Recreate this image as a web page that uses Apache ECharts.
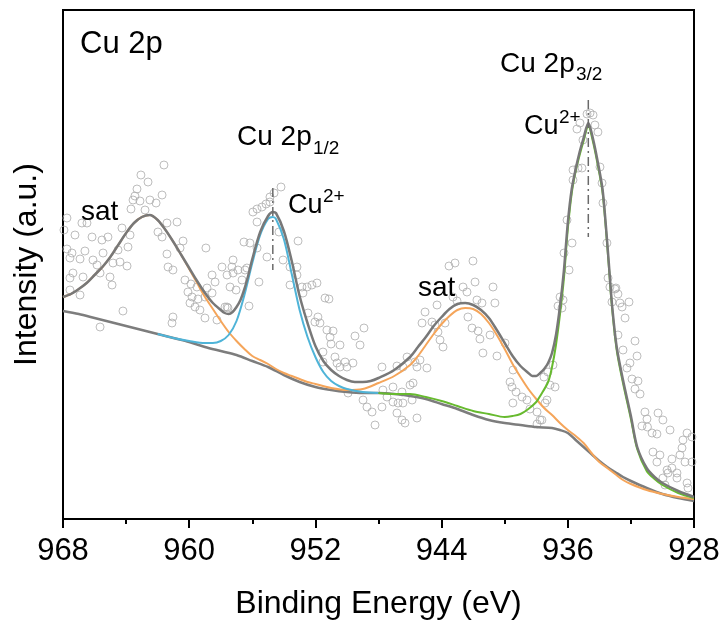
<!DOCTYPE html>
<html>
<head>
<meta charset="utf-8">
<script src="https://cdn.jsdelivr.net/npm/echarts@6/dist/echarts.min.js"></script>
<style>html,body{margin:0;padding:0;background:#fff}#c{width:727px;height:627px}</style>
</head>
<body>
<div id="c"></div>
<script>
// Binding energy axis (eV), reversed
const xTicks = [968, 960, 952, 944, 936, 928];

// Raw XPS data points [binding energy (eV), intensity (a.u.)]
const rawPoints = [
[961.60,354],[963.06,344],[962.61,337],[963.31,330],[963.44,323],[963.56,319],[963.12,318],[962.49,319],[962.10,316],[961.72,324],[962.80,309],[963.69,310],[967.75,301],[966.48,296],[966.80,296],[967.94,289],[967.24,284],[966.16,282],[965.53,279],[965.15,282],[964.26,291],[961.41,296],[960.77,297],[963.75,284],[961.98,287],[961.72,282],[960.39,278],[967.75,270],[967.43,266],[966.61,268],[965.46,266],[964.51,269],[963.88,272],[961.41,265],[960.58,271],[958.94,271],[967.56,261],[966.92,260],[966.10,259],[965.84,254],[964.83,256],[964.39,257],[963.94,253],[961.34,252],[961.03,249],[967.37,246],[966.73,242],[965.65,246],[965.02,242],[967.56,241],[964.89,234],[966.92,224],[967.56,229],[960.27,239],[959.89,235],[959.51,232],[958.87,231],[958.55,244],[958.36,237],[957.92,252],[957.60,244],[960.08,227],[959.82,222],[959.44,220],[959.00,222],[958.55,226],[957.60,212],[959.95,216],[959.63,212],[959.32,209],[959.00,201],[958.24,199],[961.03,202],[961.09,196],[964.20,208],[965.65,192],
[954.18,332],[954.62,326],[954.88,322],[955.96,307],[955.70,310],[955.39,312],[955.13,315],[954.88,317],[955.70,297],[956.53,277],[956.15,276],[954.31,287],[953.10,278],[955.70,271],[955.07,262],[954.05,259],[953.61,252],[953.17,252],[953.17,244],[957.22,259],[957.29,252],[956.91,249],[957.22,246],[956.46,249],[956.65,239],[956.34,251],[955.58,237],[957.41,232],[957.03,229],[953.61,234],[952.85,232],[952.53,232],[952.22,234],[951.90,236],[952.79,226],[951.39,221],[951.14,220],[956.21,213],[957.73,212],[957.54,211],[952.47,206],[951.84,202],[952.03,197],[951.71,196],[948.92,191],[951.27,189],[950.88,188],[951.07,182],[949.49,183],[949.17,174],[951.01,175],[950.44,174],[951.52,167],[950.76,162],[950.63,156],[950.12,157],[949.62,156],[950.44,152],[950.00,152],[951.52,157],[947.78,152],[949.93,126],
[943.53,253],[943.15,256],[942.01,258],[942.64,232],[942.39,227],[941.88,237],[940.74,232],[943.28,222],[943.02,218],[945.05,207],[945.24,196],[944.61,197],[944.42,194],[944.23,187],[944.10,179],[943.91,172],[941.76,219],[941.44,216],[940.62,216],[942.33,202],[942.07,191],[941.69,188],[941.57,180],[940.93,184],[941.38,166],[940.49,163],[939.98,176],[946.83,153],[946.45,152],[945.56,152],[944.93,151],[946.19,162],[945.69,157],[945.37,159],[947.72,129],[947.08,132],[946.51,127],[947.46,122],[947.08,117],[946.76,116],[946.45,116],[946.00,134],[945.81,136],[945.87,119],[947.78,112],[946.83,106],[946.51,99],[946.32,96],[945.56,101],[939.66,137],[939.54,132],[939.28,127],[938.90,122],[938.59,119],[939.48,116],[938.40,110],[937.95,107],[937.76,99],[937.95,95],[939.47,149],
[934.78,405],[934.59,406],[934.40,404],[935.23,396],[934.28,394],[934.09,387],[935.42,390],[935.04,379],[935.35,351],[935.10,351],[935.67,349],[935.67,339],[933.96,352],[933.83,336],[933.77,316],[936.05,299],[935.73,276],[936.24,266],[935.92,249],[933.52,276],[933.45,241],[933.01,230],
[936.49,222],[936.30,219],[936.62,213],[936.37,211],[933.33,232],[932.95,231],[932.82,225],[933.20,217],[932.69,216],[932.56,212],[932.12,217],[932.37,201],[932.82,184],[931.74,178],[932.50,169],[931.61,163],[932.06,156],[932.25,151],[931.93,140],[931.55,138],[931.74,130],[931.42,125],[936.94,154],[937.26,147],[937.51,142],[937.13,134],[936.81,132],[937.32,119],[937.44,116],[937.64,99],[931.11,107],[930.98,100],[930.28,106],[929.97,99],[931.30,93],[930.95,92],[930.66,86],[930.35,85],[929.52,89],[928.44,86],[928.70,79],[928.13,82],[930.60,67],[930.16,64],[930.35,57],[929.40,60],[928.89,64],[928.57,57],[928.13,57],[928.76,71],[929.71,49],[929.40,51],[929.08,46],[929.65,46],[929.08,41],[929.97,41],[929.84,34],[928.44,36],[928.38,31],
[948.98,119],[948.73,112],[948.22,94],[948.41,107],[944.29,214],[943.78,196]
];

// Shirley-type background
const background = [[968,208],[967,205],[966,201],[965,197],[964,193],[963,189],[962,185],[961,181],[960,177],[959,172],[958,168],[957,164],[956,158],[955,152],[954,144],[953,137],[952,132],[951,129],[950,127],[949,126],[948,126],[947,125],[946,123],[945,120],[944,115],[943,110],[942,104],[941,99],[940,96],[939,94],[938,92],[937,91],[936.5,89],[936,86],[935.5,79],[935,72],[934.5,65],[934,58],[933.5,52],[933,47],[932.5,42],[932,38],[931,31],[930,25],[929,21],[928,18]];

// Satellite components (orange)
const satellites = [[968,222],[967.5,225],[967,230],[966.5,236],[966,244],[965.5,252],[965,262],[964.5,274],[964,286],[963.5,296],[963,302],[962.5,304],[962,299],[961.5,289],[961,277],[960.5,264],[960,250],[959.5,236],[959,222],[958.5,210],[958,198],[957.5,187],[957,178],[956.5,170],[956,163],[955.5,159],[955,155],[954.5,150],[954,146],[953.5,143],[953,140],[952.5,137],[952,135],[951,131],[950,129],[949,130],[948,136],[947,143],[946,154],[945.5,163],[945,174],[944.5,185],[944,195],[943.5,203],[943,209],[942.5,211],[942,210],[941.5,205],[941,196],[940.5,184],[940,170],[939.5,155],[939,142],[938.5,130],[938,120],[937.5,111],[937,104],[936.5,96],[936,89],[935.5,83],[935,76],[934.5,66],[934,57],[933.5,51],[933,45],[932.5,39],[932,35],[931,29],[930,25],[929,22],[928,20]];

// Cu 2p1/2 Cu2+ component (blue)
const cu2p12 = [[962,185],[961,181],[960,178],[959,176],[958.5,176],[958,178],[957.5,184],[957,198],[956.5,224],[956,256],[955.5,284],[955,300],[954.7,302],[954.5,300],[954,280],[953.5,245],[953,209],[952.5,182],[952,162],[951.5,147],[951,138],[950.5,133],[950,130],[949,127],[948,126]];

// Cu 2p3/2 Cu2+ component (green)
const cu2p32 = [[948,126],[947,125],[946,125],[945,122],[944,118],[943,113],[942,108],[941,105],[940,102],[939.5,103],[939,105],[938.5,110],[938,117],[937.75,123],[937.25,137],[937,152],[936.75,174],[936.5,204],[936.25,240],[936,290],[935.75,326],[935.5,348],[935.25,364],[935,378],[934.7,393],[934.4,377],[934.1,354],[933.8,327],[933.6,293],[933.4,253],[933.2,212],[932.9,169],[932.5,136],[932,100],[931.6,70],[931,48],[930.5,40],[930,34],[929,26],[928,21]];

// Fitted envelope (gray)
const envelope = [[968,222],[967.5,225],[967,230],[966.5,236],[966,244],[965.5,252],[965,262],[964.5,274],[964,286],[963.5,296],[963,302],[962.5,304],[962,299],[961.5,289],[961,277],[960.5,264],[960,251],[959.5,238],[959,226],[958.5,216],[958,209],[957.75,206],[957.5,205],[957.25,207],[957,212],[956.75,219],[956.5,230],[956.25,244],[956,260],[955.5,287],[955,303],[954.7,307],[954.5,306],[954,288],[953.5,258],[953,223],[952.5,196],[952,173],[951.5,158],[951,149],[950.5,143],[950,139],[949.5,137],[949,137],[948.5,138],[948,141],[947,149],[946,162],[945.5,172],[945,182],[944.5,193],[944,202],[943.5,210],[943,215],[942.5,216],[942,214],[941.5,209],[941,201],[940.5,189],[940,176],[939.5,163],[939,153],[938.5,146],[938.25,143],[938,143],[937.75,146],[937.5,150],[937.25,156],[937,166],[936.75,184],[936.5,212],[936.25,248],[936,296],[935.75,330],[935.5,350],[935.25,367],[935,381],[934.7,396],[934.4,380],[934.1,357],[933.8,330],[933.6,296],[933.4,256],[933.2,215],[932.9,172],[932.5,139],[932,103],[931.6,72],[931,51],[930.5,42],[930,36],[929,28],[928,22]];

// Dash-dot peak position markers [energy, from, to]
const peakMarks = [[954.7, 331, 249], [934.7, 419, 282]];

const FONT = '"Liberation Sans", Arial, sans-serif';
const chart = echarts.init(document.getElementById('c'), null, {renderer: 'canvas'});

function lineSeries(data, color, width, z) {
  return {
    type: 'line', data: data, symbol: 'none', smooth: 0.3, z: z,
    lineStyle: {color: color, width: width}, silent: true
  };
}

const markSeries = peakMarks.map(m => ({
  type: 'line', symbol: 'none', z: 6, silent: true,
  data: [[m[0], m[1]], [m[0], m[2]]],
  lineStyle: {color: '#6a6a6a', width: 1.5, type: [9, 4, 2, 4]}
}));

function txt(x, y, s, size) {
  return {
    type: 'text', x: x, y: y, z: 100, silent: true,
    style: {text: s, font: size + 'px ' + FONT, fill: '#000',
            align: 'left', verticalAlign: 'middle', textAlign: 'left', textVerticalAlign: 'middle'}
  };
}

const option = {
  animation: false,
  backgroundColor: '#fff',
  grid: {left: 63, right: 33, top: 10, bottom: 108, show: true, borderColor: '#000', borderWidth: 2},
  xAxis: {
    type: 'value', inverse: true, min: 928, max: 968, interval: 8,
    name: 'Binding Energy (eV)', nameLocation: 'middle', nameGap: 69,
    nameTextStyle: {fontFamily: FONT, fontSize: 32, color: '#000'},
    axisLine: {show: true, lineStyle: {color: '#000', width: 2}},
    axisTick: {show: true, length: 9, lineStyle: {color: '#000', width: 2}},
    minorTick: {show: true, splitNumber: 2, length: 5, lineStyle: {color: '#000', width: 2}},
    axisLabel: {fontFamily: FONT, fontSize: 31, color: '#000', margin: 17,
      formatter: v => xTicks.includes(v) ? String(v) : ''},
    splitLine: {show: false}
  },
  yAxis: {
    type: 'value', min: 0, max: 509,
    name: 'Intensity (a.u.)', nameLocation: 'middle', nameGap: 20,
    nameTextStyle: {fontFamily: FONT, fontSize: 32, color: '#000'},
    axisLine: {show: true, lineStyle: {color: '#000', width: 2}},
    axisTick: {show: false}, axisLabel: {show: false}, splitLine: {show: false}
  },
  series: [
    {
      type: 'scatter', data: rawPoints, symbol: 'circle', symbolSize: 8, z: 1, silent: true,
      itemStyle: {color: 'rgba(255,255,255,0)', borderColor: '#adadad', borderWidth: 1}
    },
    lineSeries(background, '#7d7d7d', 2.5, 2),
    lineSeries(satellites, '#f5a55a', 2, 3),
    lineSeries(cu2p12, '#4fb4d8', 2, 3),
    lineSeries(cu2p32, '#67ba2f', 2, 3),
    lineSeries(envelope, '#787878', 2.5, 4)
  ].concat(markSeries),
  graphic: [
    txt(80, 44, 'Cu 2p', 31),
    txt(81, 212, 'sat', 28),
    txt(418, 288, 'sat', 28),
    txt(237, 137, 'Cu 2p', 28),
    txt(313, 149, '1/2', 19),
    txt(288, 206, 'Cu', 27),
    txt(323, 197, '2+', 19),
    txt(500, 64, 'Cu 2p', 28),
    txt(576, 75, '3/2', 19),
    txt(524, 127, 'Cu', 27),
    txt(559, 118, '2+', 19)
  ]
};
chart.setOption(option);
</script>
</body>
</html>
